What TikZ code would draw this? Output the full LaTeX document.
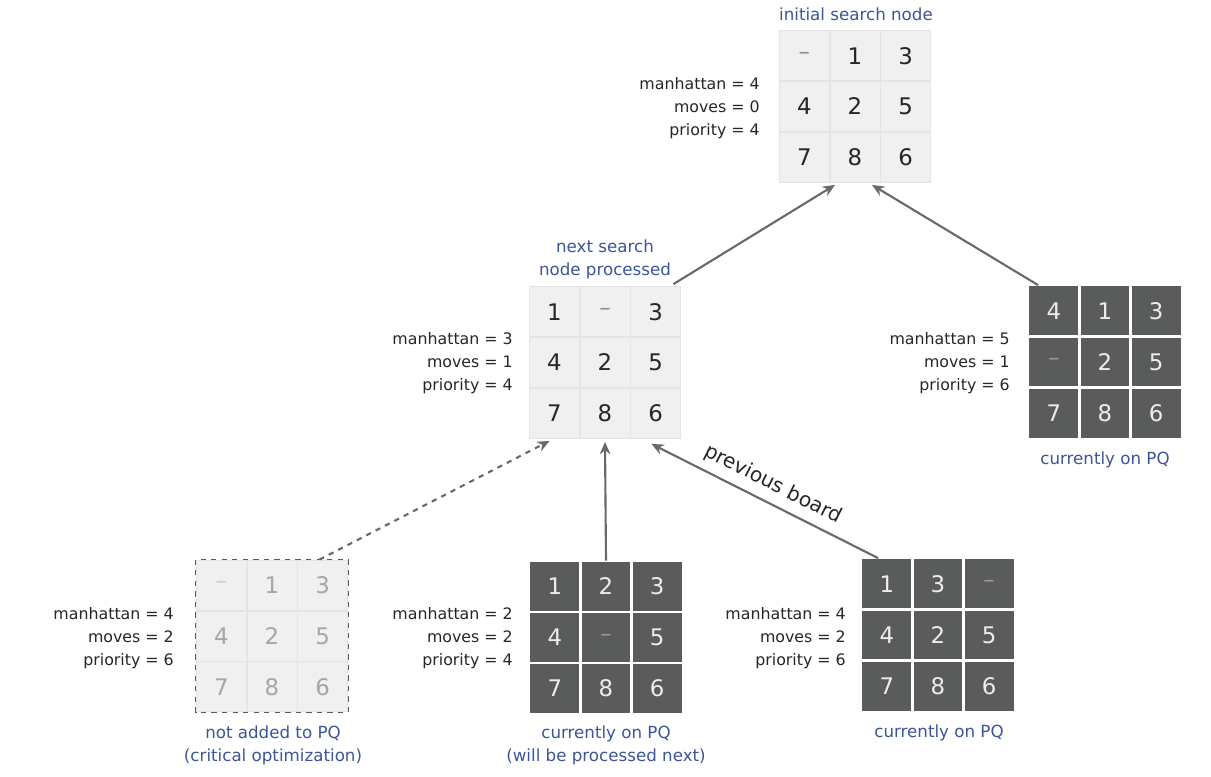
\documentclass[tikz,border=0pt]{standalone}
\usepackage{fontspec}
\setmainfont{DejaVu Sans}
\usetikzlibrary{matrix,arrows.meta,calc}

\definecolor{capblue}{RGB}{60,85,150}
\definecolor{tiledark}{RGB}{90,92,92}
\definecolor{tilelight}{RGB}{240,240,240}
\definecolor{gridlight}{RGB}{228,228,228}
\definecolor{arrowgray}{RGB}{105,105,105}

\tikzset{
  board/.style={matrix of nodes, inner sep=0pt, column sep=0pt, row sep=0pt,
    nodes={minimum size=1cm, inner sep=0pt, anchor=center,
      font=\fontsize{13}{15}\selectfont}},
  lightboard/.style={board, nodes={fill=tilelight, draw=gridlight, line width=0.4pt, text=black!85}},
  darkboard/.style={board, nodes={fill=tiledark, draw=white, line width=0.6pt, text=white!93!black}},
  ghostboard/.style={board, nodes={fill=tilelight, draw=gridlight, line width=0.4pt, text=black!35}},
  info/.style={anchor=east, align=right, font=\fontsize{9}{13}\selectfont, text=black!85},
  caption/.style={align=center, font=\fontsize{9.5}{13}\selectfont, text=capblue},
  link/.style={draw=arrowgray, line width=1.2pt, -{Stealth[length=7pt,width=6pt]}}
}

\begin{document}
\begin{tikzpicture}[x=0.02cm,y=-0.02cm]
\useasboundingbox (0,0) rectangle (1211,777);

% initial search node
\matrix (init) [lightboard] at (855,106.5) {
  |[text=black!45]|\textendash & 1 & 3 \\
  4 & 2 & 5 \\
  7 & 8 & 6 \\
};
\node[caption] (initcap) at (856,14) {initial search node};
\node[info] (initinfo) at (766,108) {manhattan = 4\\moves = 0\\priority = 4};

% next search node processed
\matrix (next) [lightboard] at (605,362.5) {
  1 & |[text=black!45]|\textendash & 3 \\
  4 & 2 & 5 \\
  7 & 8 & 6 \\
};
\node[caption] (nextcap) at (605,259.5) {next search\\node processed};
\node[info] (nextinfo) at (519,363) {manhattan = 3\\moves = 1\\priority = 4};

% right neighbour of initial node
\matrix (left) [darkboard] at (1105,362) {
  4 & 1 & 3 \\
  |[text=white!60!black]|\textendash & 2 & 5 \\
  7 & 8 & 6 \\
};
\node[caption] (leftcap) at (1105,460) {currently on PQ};
\node[info] (leftinfo) at (1016,363) {manhattan = 5\\moves = 1\\priority = 6};

% neighbours of next node
\matrix (back) [ghostboard] at (272,636) {
  |[text=black!20]|\textendash & 1 & 3 \\
  4 & 2 & 5 \\
  7 & 8 & 6 \\
};
\draw[dashed, draw=black!65, line width=0.7pt] (back.north west) rectangle (back.south east);
\node[caption] (backcap) at (273,745) {not added to PQ\\(critical optimization)};
\node[info] (backinfo) at (180,638) {manhattan = 4\\moves = 2\\priority = 6};

\matrix (down) [darkboard] at (606,637.5) {
  1 & 2 & 3 \\
  4 & |[text=white!60!black]|\textendash & 5 \\
  7 & 8 & 6 \\
};
\node[caption] (downcap) at (606,745) {currently on PQ\\(will be processed next)};
\node[info] (downinfo) at (519,638) {manhattan = 2\\moves = 2\\priority = 4};

\matrix (right) [darkboard] at (938,635) {
  1 & 3 & |[text=white!60!black]|\textendash \\
  4 & 2 & 5 \\
  7 & 8 & 6 \\
};
\node[caption] (rightcap) at (939,733) {currently on PQ};
\node[info] (rightinfo) at (852,638) {manhattan = 4\\moves = 2\\priority = 6};

% links to previous board
\draw[link] ($(next.north east)+(-8,-2)$) -- ($(init.south)+(-20,2)$);
\draw[link] ($(left.north west)+(10,0)$) -- ($(init.south)+(17,2)$);
\draw[link, dashed] ($(back.north east)+(-29,0)$) -- ($(next.south west)+(21,2)$);
\draw[link] (down.north) -- ($(next.south)+(0,3)$);
\draw[link] ($(right.north west)+(17,0)$) -- ($(next.south east)+(-30,5)$)
  node[midway, above=1pt, sloped, font=\fontsize{11.5}{13}\selectfont, text=black!85] {previous board};
\end{tikzpicture}
\end{document}
